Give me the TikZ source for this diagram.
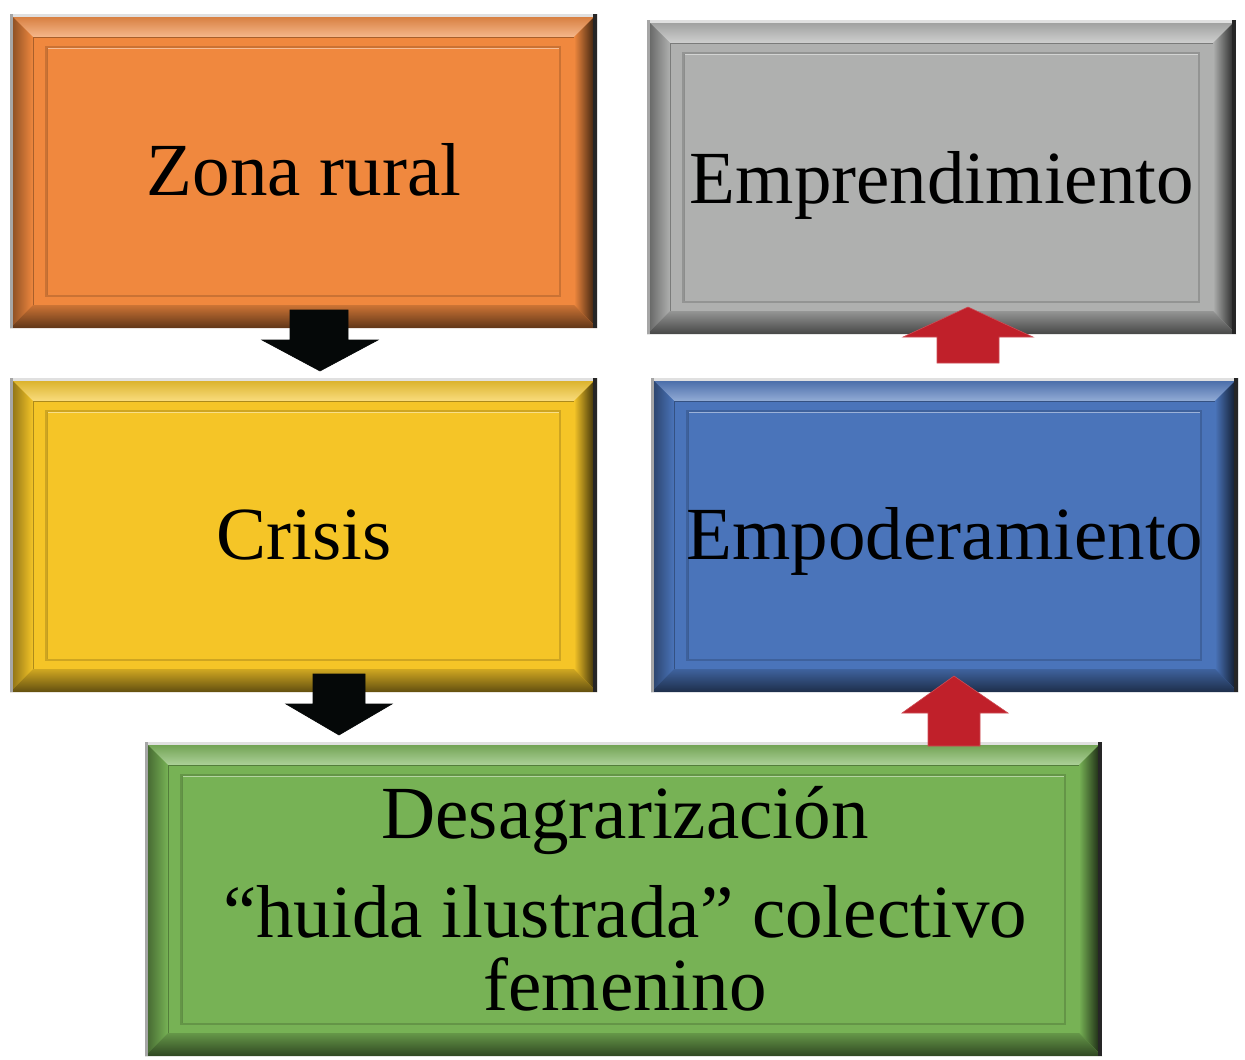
\documentclass[tikz,border=0pt]{standalone}
\usepackage{fontspec}
\setmainfont{Liberation Serif}
\usetikzlibrary{calc}
\definecolor{cOrange}{RGB}{240,136,62}
\definecolor{cYellow}{RGB}{245,197,39}
\definecolor{cGray}{RGB}{175,176,175}
\definecolor{cBlue}{RGB}{74,116,186}
\definecolor{cGreen}{RGB}{119,178,85}
\definecolor{cRed}{RGB}{192,32,42}
\definecolor{cBlack}{RGB}{5,8,8}
\tikzset{
  boxtext/.style={font=\fontsize{75}{80}\selectfont, text=black, inner sep=0pt},
  blockarrow/.style={line width=0.6pt},
}
% #1 color, #2 x1, #3 y1, #4 x2, #5 y2
\newcommand\bevbox[5]{%
  \pgfmathsetmacro\xc{#2+23}\pgfmathsetmacro\yc{#3+23}%
  \pgfmathsetmacro\xd{#4-23}\pgfmathsetmacro\yd{#5-23}%
  \pgfmathsetmacro\xe{#2+36}\pgfmathsetmacro\ye{#3+33}%
  \pgfmathsetmacro\xf{#4-37}\pgfmathsetmacro\yf{#5-32}%
  \fill[#1] (#2,#3) rectangle (#4,#5);
  \shade[top color=#1!88!black, middle color=#1!92!black, bottom color=#1!60!white]
    (#2,#3) -- (#4,#3) -- (\xd,\yc) -- (\xc,\yc) -- cycle;
  \shade[left color=#1!55!black, right color=#1]
    (#2,#3) -- (\xc,\yc) -- (\xc,\yd) -- (#2,#5) -- cycle;
  \shade[left color=#1, right color=#1!15!black]
    (#4,#3) -- (#4,#5) -- (\xd,\yd) -- (\xd,\yc) -- cycle;
  \shade[top color=#1!85!black, bottom color=#1!40!black]
    (#2,#5) -- (#4,#5) -- (\xd,\yd) -- (\xc,\yd) -- cycle;
  \draw[#1!70!black, line width=1pt] (\xc,\yd) -- (\xc,\yc) -- (\xd,\yc);
  \draw[#1!84!black, line width=1.4pt] (\xe,\ye) rectangle (\xf,\yf);
  \draw[#1!55!white, line width=1.6pt] (\xe+1,\ye+1.5) -- (\xf-1,\ye+1.5);
  \draw[#1!80!black, line width=1.4pt] (\xe+1.5,\ye+1) -- (\xe+1.5,\yf-1);
  \draw[black!12, line width=3pt] (#2,#3+1.5) -- (#4,#3+1.5);
  \draw[black!35, line width=3pt] (#2+1.5,#3) -- (#2+1.5,#5);
  \draw[black!85, line width=4pt] (#4-2,#3) -- (#4-2,#5);
}
\begin{document}
\begin{tikzpicture}[x=1pt,y=-1pt]
\useasboundingbox (0,0) rectangle (1245,1060);
\fill[white] (0,0) rectangle (1245,1060);

% boxes
\bevbox{cOrange}{10}{14}{597}{328}
\bevbox{cYellow}{10}{378}{597}{692}
\bevbox{cGray}{647}{20}{1236}{334}
\bevbox{cBlue}{651}{378}{1238}{692}
\bevbox{cGreen}{145}{742}{1102}{1056}

% texts
\node[boxtext, anchor=base] (zona) at (304,195) {Zona rural};
\node[boxtext, anchor=base] (crisis) at (304,559) {Crisis};
\node[boxtext, anchor=base] (empr) at (942,203) {Emprendimiento};
\node[boxtext, anchor=base] (empo) at (945,559) {Empoderamiento};
\node[boxtext, anchor=base] (desa) at (625,838) {Desagrarización};
\node[boxtext, anchor=base] (huida) at (625,937) {“huida ilustrada” colectivo};
\node[boxtext, anchor=base] (feme) at (625,1010) {femenino};

% block arrows
\filldraw[blockarrow, fill=cBlack, draw=cBlack]
  (290,310) -- (348,310) -- (348,340) -- (378,340) -- (320,371) -- (262,340) -- (290,340) -- cycle;
\filldraw[blockarrow, fill=cBlack, draw=cBlack]
  (313,674) -- (365,674) -- (365,704) -- (392,704) -- (339,735) -- (286,704) -- (313,704) -- cycle;
\filldraw[blockarrow, fill=cRed, draw=cRed!80!white]
  (937,363) -- (999,363) -- (999,337) -- (1033,337) -- (968,307) -- (903,337) -- (937,337) -- cycle;
\filldraw[blockarrow, fill=cRed, draw=cRed!80!white]
  (928,746) -- (980,746) -- (980,713) -- (1008,713) -- (954,676) -- (902,713) -- (928,713) -- cycle;
\end{tikzpicture}
\end{document}
